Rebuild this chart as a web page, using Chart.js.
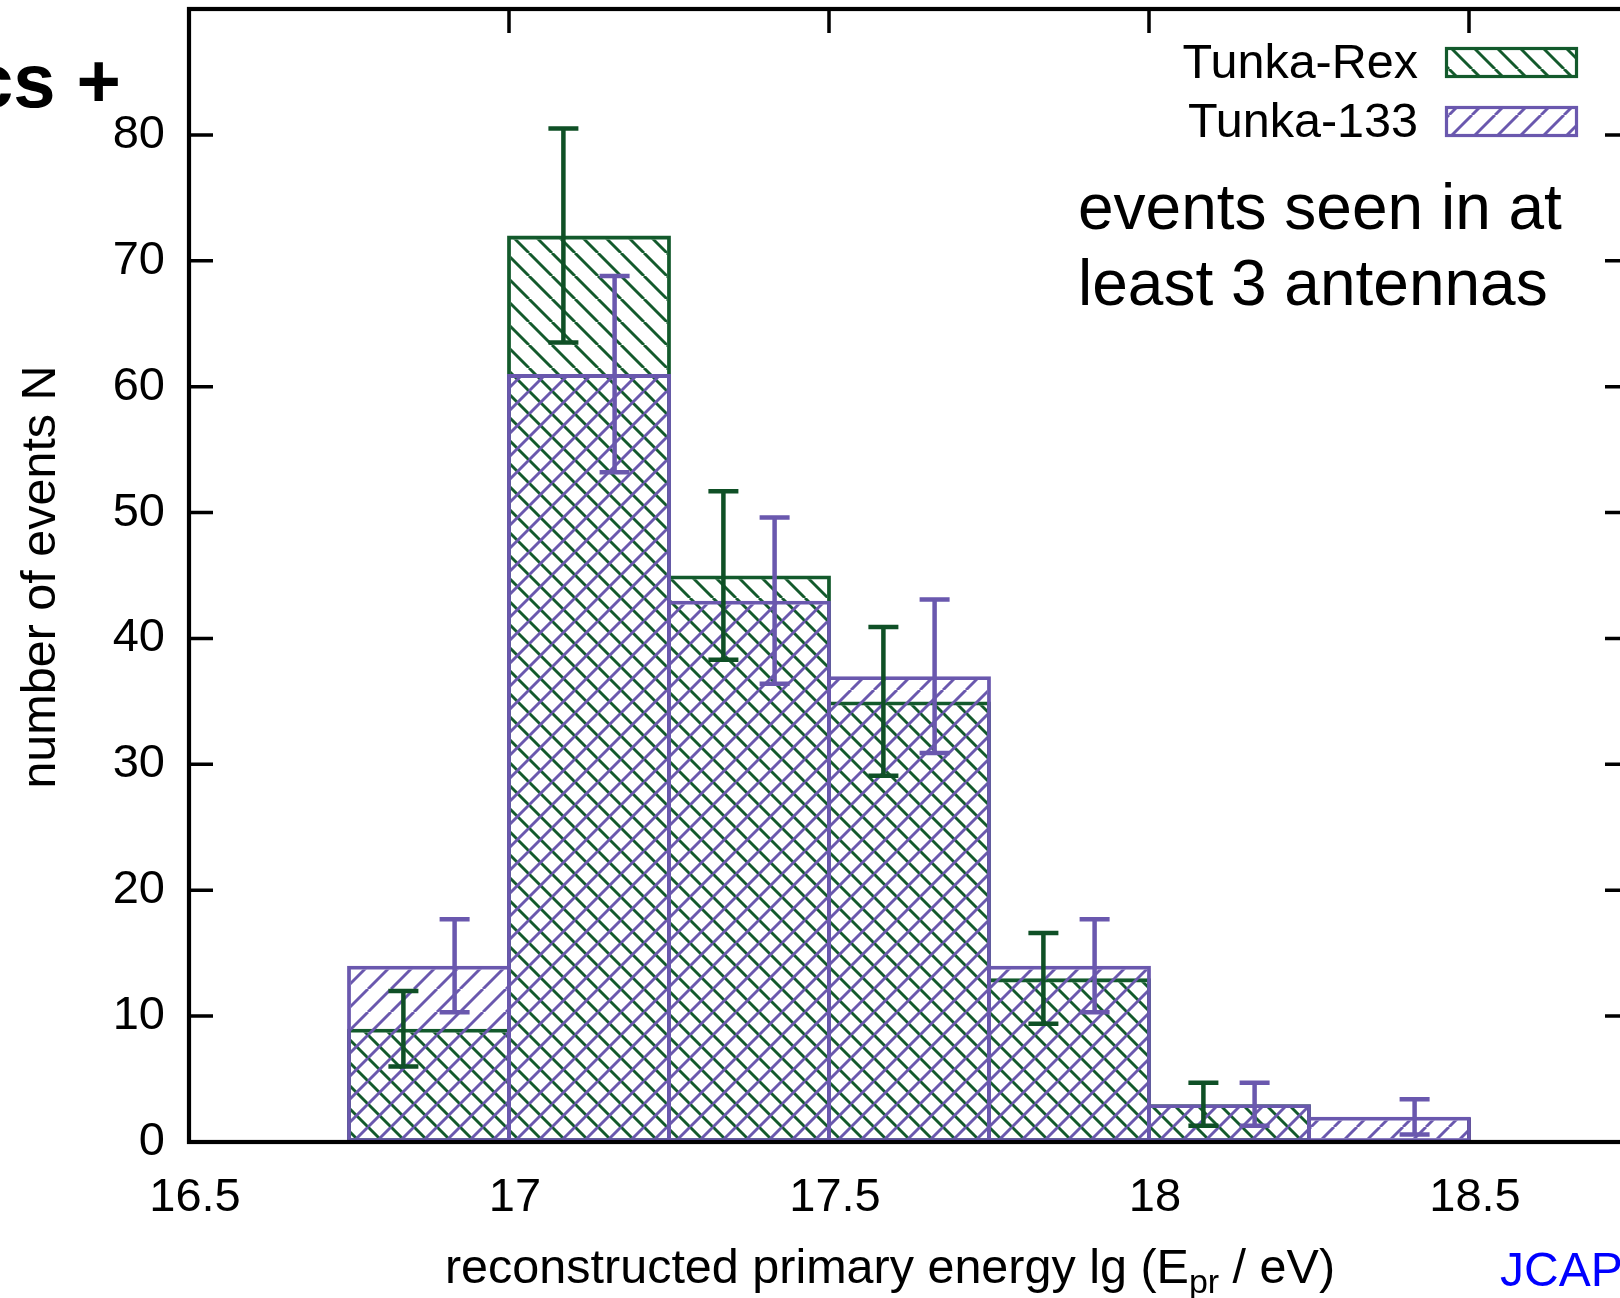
<!DOCTYPE html>
<html>
<head>
<meta charset="utf-8">
<title>Tunka-Rex / Tunka-133 energy histogram</title>
<script src="https://cdn.jsdelivr.net/npm/chart.js@4.4.1/dist/chart.umd.min.js"></script>
<style>
  html, body { margin: 0; padding: 0; background: #fff; overflow: hidden; }
  canvas { display: block; }
</style>
</head>
<body>
<canvas id="chart" width="1660" height="1298"></canvas>
<script>
// bin centres in lg(E/eV), bins are 0.25 wide
const binCenters = [16.875, 17.125, 17.375, 17.625, 17.875, 18.125, 18.375];
const rexCounts = [9, 72, 45, 35, 13, 3, 0];
const t133Counts = [14, 61, 43, 37, 14, 3, 2];

// error bar ends
const rexErrLow = [6.0, 63.5, 38.3, 29.1, 9.4, 1.3, null];
const rexErrHigh = [12.0, 80.5, 51.7, 40.9, 16.6, 4.7, null];
const t133ErrLow = [10.3, 53.2, 36.4, 30.9, 10.3, 1.3, 0.6];
const t133ErrHigh = [17.7, 68.8, 49.6, 43.1, 17.7, 4.7, 3.4];

const xTicks = [16.5, 17, 17.5, 18, 18.5];
const yTicks = [0, 10, 20, 30, 40, 50, 60, 70, 80];
const seriesLabels = ["Tunka-Rex", "Tunka-133"];

// styling
const FONT = "'Liberation Sans', Arial, Helvetica, sans-serif";
const GREEN = "#135a2c";
const GREEN_ERR = "#0f5026";
const PURPLE = "#6a58ae";
const TICK_LEN = 24;
const ERR_SHIFT = 0.04; // error bars sit left/right of the bin centre

const ctx = document.getElementById("chart");

// diagonal hatch pattern, dir "\\" or "/"
function hatch(color, dir) {
    const s = 23;
    const c = document.createElement("canvas");
    c.width = s;
    c.height = s;
    const g = c.getContext("2d");
    g.strokeStyle = color;
    g.lineWidth = 2.9;
    g.beginPath();
    for (let k = -1; k <= 1; k++) {
        if (dir === "\\") {
            g.moveTo(k * s, 0);
            g.lineTo(k * s + s, s);
        } else {
            g.moveTo(k * s, s);
            g.lineTo(k * s + s, 0);
        }
    }
    g.stroke();
    return ctx.getContext("2d").createPattern(c, "repeat");
}

const rexFill = hatch(GREEN, "\\");
const t133Fill = hatch(PURPLE, "/");

function drawErrors(c, x, y, xs, lo, hi, color) {
    c.strokeStyle = color;
    c.lineWidth = 4.5;
    c.lineCap = "butt";
    for (let i = 0; i < xs.length; i++) {
        if (lo[i] === null) continue;
        const px = x.getPixelForValue(xs[i]);
        const pl = y.getPixelForValue(lo[i]);
        const ph = y.getPixelForValue(hi[i]);
        c.beginPath();
        c.moveTo(px, pl);
        c.lineTo(px, ph);
        c.moveTo(px - 15, pl);
        c.lineTo(px + 15, pl);
        c.moveTo(px - 15, ph);
        c.lineTo(px + 15, ph);
        c.stroke();
    }
}

// no label overhang padding, the plot box is placed by hand
function noPad(s) {
    s.paddingTop = 0;
    s.paddingBottom = 0;
    s.paddingLeft = 0;
    s.paddingRight = 0;
}

const decorations = {
    id: "decorations",
    beforeDatasetsDraw(chart) {
        // inward ticks on all four sides
        const { ctx: c, chartArea: a, scales: { x, y } } = chart;
        c.save();
        c.strokeStyle = "#000";
        c.lineWidth = 3.5;
        c.beginPath();
        xTicks.forEach(v => {
            const px = x.getPixelForValue(v);
            c.moveTo(px, a.top);
            c.lineTo(px, a.top + TICK_LEN);
            c.moveTo(px, a.bottom);
            c.lineTo(px, a.bottom - TICK_LEN);
        });
        yTicks.forEach(v => {
            const py = y.getPixelForValue(v);
            c.moveTo(a.left, py);
            c.lineTo(a.left + TICK_LEN, py);
            c.moveTo(a.right, py);
            c.lineTo(a.right - TICK_LEN, py);
        });
        c.stroke();
        c.restore();
    },
    afterDatasetsDraw(chart) {
        const { ctx: c, chartArea: a, scales: { x, y } } = chart;
        c.save();
        drawErrors(c, x, y, binCenters.map(v => v - ERR_SHIFT), rexErrLow, rexErrHigh, GREEN_ERR);
        drawErrors(c, x, y, binCenters.map(v => v + ERR_SHIFT), t133ErrLow, t133ErrHigh, PURPLE);
        // frame
        c.strokeStyle = "#000";
        c.lineWidth = 4.2;
        c.strokeRect(a.left, a.top, a.right - a.left, a.bottom - a.top);
        c.restore();
    },
    afterDraw(chart) {
        const c = chart.ctx;
        c.save();
        c.fillStyle = "#000";

        // legend: text right, hatched box left
        const fills = [rexFill, t133Fill];
        const cols = [GREEN, PURPLE];
        const rows = [{ base: 78, boxTop: 48 }, { base: 137, boxTop: 107 }];
        c.font = "48.5px " + FONT;
        c.textAlign = "right";
        c.textBaseline = "alphabetic";
        rows.forEach((r, i) => {
            c.fillStyle = "#000";
            c.fillText(seriesLabels[i], 1418, r.base);
            c.fillStyle = fills[i];
            c.fillRect(1446, r.boxTop, 131, 28);
            c.strokeStyle = cols[i];
            c.lineWidth = 3.2;
            c.strokeRect(1446.5, r.boxTop + 0.5, 130, 28);
        });

        // annotation
        c.fillStyle = "#000";
        c.textAlign = "left";
        c.font = "64px " + FONT;
        c.fillText("events seen in at", 1078, 229);
        c.fillText("least 3 antennas", 1078, 305);

        // x title with subscript
        const p1 = "reconstructed primary energy lg (E";
        const p2 = "pr";
        const p3 = " / eV)";
        c.font = "48.5px " + FONT;
        const w1 = c.measureText(p1).width;
        const w3 = c.measureText(p3).width;
        c.font = "34px " + FONT;
        const w2 = c.measureText(p2).width;
        let tx = 890 - (w1 + w2 + w3) / 2;
        const ty = 1283;
        c.font = "48.5px " + FONT;
        c.fillText(p1, tx, ty);
        tx += w1;
        c.font = "34px " + FONT;
        c.fillText(p2, tx, ty + 10);
        tx += w2;
        c.font = "48.5px " + FONT;
        c.fillText(p3, tx, ty);

        // y title
        c.save();
        c.translate(55, 577);
        c.rotate(-Math.PI / 2);
        c.textAlign = "center";
        c.fillText("number of events N", 0, 0);
        c.restore();

        // leftover slide text at the edges
        c.font = "bold 76px " + FONT;
        c.textAlign = "right";
        c.fillText("ics +", 121, 107);
        c.font = "48px " + FONT;
        c.textAlign = "left";
        c.fillStyle = "#0000ff";
        c.fillText("JCAP", 1500, 1286);
        c.restore();
    }
};

Chart.defaults.font.family = FONT;

window.chart = new Chart(ctx, {
    type: "bar",
    data: {
        datasets: [{
            label: seriesLabels[0],
            data: binCenters.map((v, i) => ({ x: v, y: rexCounts[i] })),
            backgroundColor: rexFill,
            borderColor: GREEN,
            borderWidth: 3.8,
            borderSkipped: false,
            grouped: false,
            barPercentage: 1.024,
            categoryPercentage: 1,
            order: 1
        }, {
            label: seriesLabels[1],
            data: binCenters.map((v, i) => ({ x: v, y: t133Counts[i] })),
            backgroundColor: t133Fill,
            borderColor: PURPLE,
            borderWidth: 3.8,
            borderSkipped: false,
            grouped: false,
            barPercentage: 1.024,
            categoryPercentage: 1,
            order: 0
        }]
    },
    options: {
        responsive: false,
        animation: false,
        devicePixelRatio: 1,
        events: [],
        layout: { padding: { left: 0, right: 31, top: 9, bottom: 0 } },
        plugins: { legend: { display: false }, tooltip: { enabled: false } },
        scales: {
            x: {
                type: "linear",
                offset: false,
                min: 16.5,
                max: 18.75,
                grid: { display: false, offset: false },
                border: { display: false },
                afterBuildTicks: s => { s.ticks = xTicks.map(v => ({ value: v })); },
                afterFit: s => { s.height = 156; noPad(s); },
                ticks: {
                    color: "#000",
                    font: { size: 47 },
                    padding: 20,
                    labelOffset: 6,
                    maxRotation: 0,
                    autoSkip: false,
                    callback: v => String(v)
                }
            },
            y: {
                min: 0,
                max: 90,
                grid: { display: false },
                border: { display: false },
                afterBuildTicks: s => { s.ticks = yTicks.map(v => ({ value: v })); },
                afterFit: s => { s.width = 189; noPad(s); },
                ticks: {
                    color: "#000",
                    font: { size: 47 },
                    padding: 16,
                    callback: v => String(v)
                }
            }
        }
    },
    plugins: [decorations]
});
</script>
</body>
</html>
